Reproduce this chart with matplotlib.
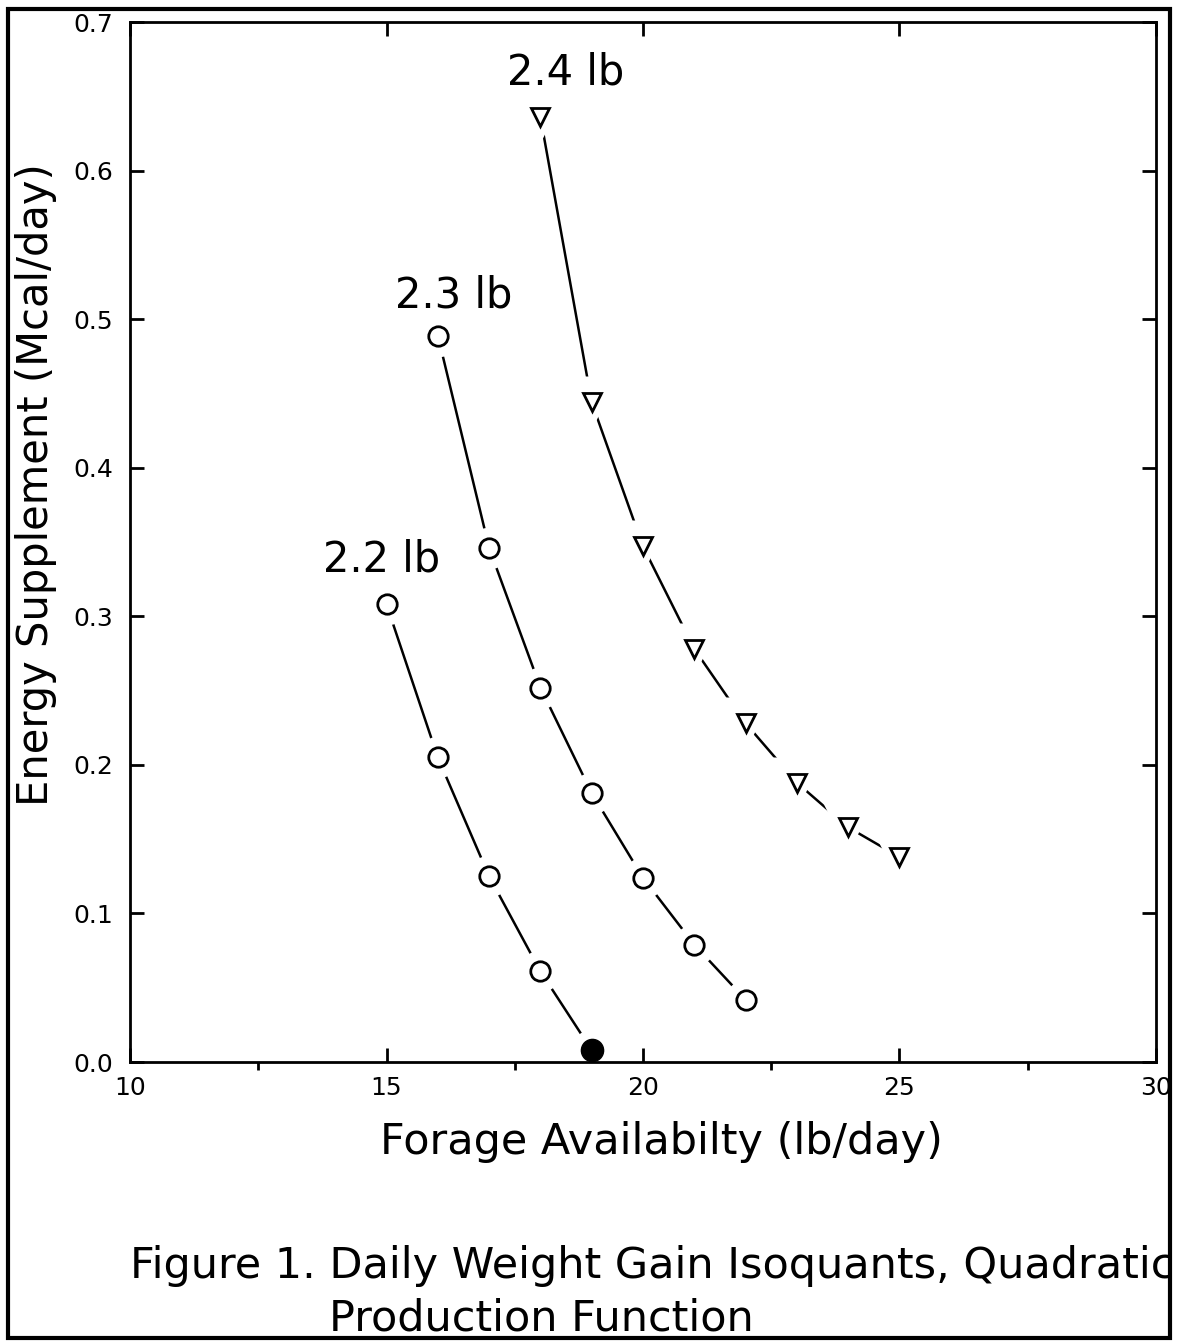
import matplotlib.pyplot as plt
from matplotlib.patches import Rectangle
from matplotlib.ticker import MultipleLocator

# forage availability (lb/day) and energy supplement (Mcal/day) per isoquant
x_22 = [15, 16, 17, 18]
y_22 = [0.308, 0.205, 0.125, 0.061]
x_22_end = [19]
y_22_end = [0.008]

x_23 = [16, 17, 18, 19, 20, 21, 22]
y_23 = [0.489, 0.346, 0.252, 0.181, 0.124, 0.079, 0.042]

x_24 = [18, 19, 20, 21, 22, 23, 24, 25]
y_24 = [0.636, 0.444, 0.347, 0.278, 0.228, 0.188, 0.158, 0.138]

labels = ["2.2 lb", "2.3 lb", "2.4 lb"]
label_pos = [(14.9, 0.338), (16.3, 0.516), (18.5, 0.666)]

fig = plt.figure(figsize=(11.78, 13.42), dpi=100)
ax = fig.add_axes([0.1104, 0.2086, 0.8709, 0.7750])

lw = 1.8
ms = 14

# line through all points of 2.2 lb (incl. the solid end point)
ax.plot(x_22 + x_22_end, y_22 + y_22_end, color="black", lw=lw, zorder=2)
ax.plot(x_23, y_23, color="black", lw=lw, zorder=2)
ax.plot(x_24, y_24, color="black", lw=lw, zorder=2)

# white halos so the lines stop short of the markers
ax.plot(x_22 + x_22_end, y_22 + y_22_end, "o", ms=ms + 16, mfc="white", mec="none", zorder=3)
ax.plot(x_23, y_23, "o", ms=ms + 16, mfc="white", mec="none", zorder=3)
ax.plot(x_24, y_24, "v", ms=ms + 24, mfc="white", mec="none", zorder=3)

ax.plot(x_22, y_22, "o", ms=ms, mfc="white", mec="black", mew=2.0, zorder=4)
ax.plot(x_22_end, y_22_end, "o", ms=ms + 2, mfc="black", mec="black", zorder=4)
ax.plot(x_23, y_23, "o", ms=ms, mfc="white", mec="black", mew=2.0, zorder=4)
ax.plot(x_24, y_24, "v", ms=ms - 1, mfc="white", mec="black", mew=2.0, zorder=4)

for txt, (lx, ly) in zip(labels, label_pos):
    ax.text(lx, ly, txt, fontsize=30, ha="center", va="center")

ax.set_xlim(10, 30)
ax.set_ylim(0, 0.7)
ax.xaxis.set_major_locator(MultipleLocator(5))
ax.xaxis.set_minor_locator(MultipleLocator(2.5))
ax.yaxis.set_major_locator(MultipleLocator(0.1))
ax.yaxis.set_major_formatter(plt.FuncFormatter(lambda v, p: f"{v:.1f}"))

ax.tick_params(axis="both", which="major", direction="in", length=10, width=2,
               labelsize=18, top=True, right=True)
ax.tick_params(axis="x", which="minor", direction="out", length=6, width=2,
               bottom=True, top=False)
ax.tick_params(axis="x", which="major", pad=10)
ax.tick_params(axis="y", which="major", pad=12)
for s in ax.spines.values():
    s.set_linewidth(2)
    s.set_zorder(5)

ax.set_xlabel("Forage Availabilty (lb/day)", fontsize=31)
ax.set_ylabel("Energy Supplement (Mcal/day)", fontsize=30)
ax.xaxis.set_label_coords(0.518, -0.057)
ax.yaxis.set_label_coords(-0.071, 0.555)

fig.text(0.110, 0.057, "Figure 1. Daily Weight Gain Isoquants, Quadratic",
         fontsize=31, ha="left", va="center")
fig.text(0.279, 0.0175, "Production Function", fontsize=31, ha="left", va="center")

# page frame and white margin beyond it (the scan cuts text off)
fig.add_artist(Rectangle((0.9935, 0), 0.01, 1, transform=fig.transFigure,
                         facecolor="white", edgecolor="none", zorder=10))
fig.add_artist(Rectangle((0, 0), 1, 0.003, transform=fig.transFigure,
                         facecolor="white", edgecolor="none", zorder=10))
fig.add_artist(Rectangle((0.0068, 0.003), 0.9867, 0.990, transform=fig.transFigure,
                         fill=False, edgecolor="black", lw=3, zorder=11))

fig.savefig("out.png", dpi=100)
